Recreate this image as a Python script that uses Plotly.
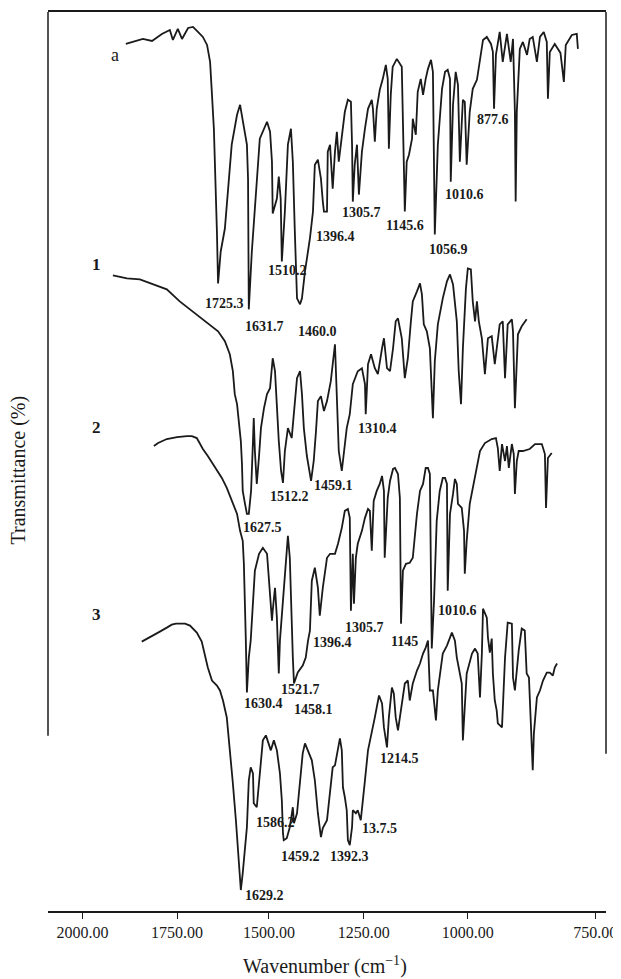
import plotly.graph_objects as go

# ---- Spectrum a (wavenumber, offset transmittance a.u.) ----
a_wn = [1887,1868,1842,1818,1792,1771,1763,1750,1739,1723,1710,1697,1684,1673,1665,1660,1655,1647,1644,1637,
        1626,1608,1594,1586,1579,1568,1565,1563,1555,1547,1534,1515,1507,1502,1500,1489,1484,1479,1476,1468,
        1460,1452,1447,1442,1436,1428,1423,1415,1402,1394,1389,1381,1373,1368,1365,1357,1355,1349,1342,1336,
        1331,1326,1318,1310,1302,1294,1291,1289,1284,1278,1273,1265,1257,1249,1239,1236,1231,1226,1218,1210,
        1202,1197,1194,1189,1184,1173,1160,1157,1152,1147,1141,1133,1131,1123,1118,1110,1104,1097,1091,1083,
        1078,1073,1065,1054,1046,1039,1033,1031,1025,1018,1012,1007,999,994,989,981,973,962,954,946,
        936,925,920,917,912,902,894,883,873,867,862,860,857,849,841,830,823,815,804,796,
        786,778,775,770,757,742,733,728,712,699,696]
a_t = [869,871,874,872,879,883,873,884,874,885,886,881,876,868,851,818,784,681,629,661,
       684,768,798,808,794,768,734,603,661,701,774,791,781,751,699,714,736,714,651,701,
       768,784,751,684,614,608,614,641,674,701,748,753,734,711,701,701,761,768,724,761,
       781,751,778,801,813,811,768,711,748,768,718,761,784,804,813,804,771,804,823,834,
       848,834,764,818,846,854,846,801,701,751,758,774,794,778,821,834,818,834,844,853,
       841,678,768,824,841,843,834,731,808,841,828,751,813,811,748,801,824,833,854,873,
       876,869,861,804,858,881,851,879,851,874,801,711,801,864,871,858,874,876,851,876,
       881,871,814,861,869,860,831,868,878,879,864]

# ---- Spectrum 1 ----
s1_wn = [1921,1884,1850,1816,1779,1745,1718,1692,1666,1644,1626,1613,1605,1600,1594,1589,1584,1581,1579,1573,
         1568,1563,1557,1552,1550,1547,1542,1536,1531,1523,1515,1507,1500,1494,1489,1484,1478,1473,1468,1460,
         1450,1436,1428,1423,1418,1410,1399,1392,1386,1381,1373,1365,1357,1347,1336,1331,1326,1318,1310,1305,
         1297,1289,1276,1265,1257,1255,1249,1241,1231,1223,1212,1207,1199,1191,1183,1176,1170,1160,1152,1144,
         1136,1131,1120,1112,1107,1102,1094,1086,1078,1073,1065,1052,1041,1033,1025,1015,1010,1004,999,991,
         986,978,973,967,962,957,949,941,933,923,915,902,894,888,881,870,867,862,854,844,831]
s1_t = [637,634,633,628,623,611,603,596,588,581,571,558,541,518,508,491,471,448,421,408,
        398,398,421,471,494,461,428,456,484,504,518,524,554,541,504,471,441,429,461,484,
        474,534,541,518,484,456,431,451,481,511,516,501,511,531,568,511,461,441,471,484,
        498,528,541,544,528,498,548,558,544,538,564,574,544,541,564,591,594,574,534,554,
        591,611,621,629,618,588,581,564,494,551,588,614,631,638,628,591,541,508,564,624,
        644,643,611,591,611,591,574,538,574,576,548,588,591,534,588,593,581,504,578,586,593]

# ---- Spectrum 2 ----
s2_wn = [1813,1802,1779,1752,1726,1713,1700,1684,1671,1652,1634,1621,1608,1594,1586,1579,1576,1573,1571,1568,
         1563,1558,1555,1547,1536,1526,1515,1510,1502,1500,1494,1489,1484,1481,1473,1465,1460,1455,1450,1447,
         1444,1434,1421,1413,1407,1402,1397,1389,1381,1376,1368,1357,1349,1336,1328,1318,1310,1302,1297,1294,
         1289,1286,1281,1276,1265,1257,1249,1244,1239,1234,1226,1218,1212,1207,1205,1197,1191,1183,1178,1170,
         1165,1162,1157,1149,1139,1131,1120,1112,1104,1097,1091,1086,1083,1081,1075,1073,1068,1060,1052,1046,
         1041,1039,1033,1025,1020,1015,1012,1002,996,994,989,981,973,962,954,941,923,912,907,902,
         896,888,883,878,870,865,862,857,852,841,823,809,791,783,780,775,765]
s2_t = [466,469,473,475,476,476,474,463,456,444,434,424,411,398,381,371,348,314,274,219,
        254,271,294,341,358,364,358,331,291,301,324,294,238,271,314,354,376,354,281,254,
        228,239,246,254,271,281,331,344,324,296,324,354,358,358,368,384,401,403,394,301,
        358,308,354,368,381,394,403,401,361,411,421,428,436,421,354,414,431,443,444,438,
        414,288,341,348,349,354,398,421,428,444,444,438,331,263,311,341,391,421,434,434,
        428,321,398,418,433,428,408,404,381,338,371,408,424,448,461,469,473,474,464,441,
        468,451,466,444,468,458,418,451,461,461,463,468,468,458,404,454,459]

# ---- Spectrum 3 ----
s3_wn = [1845,1824,1802,1779,1766,1755,1731,1718,1700,1687,1679,1671,1660,1647,1639,1631,1621,1613,1605,1597,
         1592,1586,1584,1579,1573,1568,1563,1558,1552,1550,1542,1536,1529,1526,1518,1513,1505,1497,1489,1481,
         1476,1473,1471,1463,1455,1447,1444,1436,1428,1421,1415,1407,1397,1389,1381,1373,1368,1357,1349,1342,
         1336,1328,1323,1318,1315,1310,1305,1302,1297,1291,1289,1281,1276,1268,1262,1257,1249,1239,1231,1220,
         1212,1207,1199,1194,1186,1181,1176,1170,1162,1152,1144,1139,1131,1120,1112,1104,1097,1091,1086,1078,
         1070,1065,1057,1052,1041,1033,1028,1020,1015,1010,1002,999,994,989,975,967,960,954,949,946,
         936,933,928,923,920,915,910,907,896,894,888,881,870,867,862,857,852,844,836,831,
         825,820,815,812,804,796,788,778,770,762,757,751]
s3_t = [270,274,279,284,287,288,288,286,279,270,258,244,231,226,221,211,194,164,128,91,
        61,36,21,38,61,84,131,144,138,108,104,128,151,171,176,171,161,171,161,138,
        111,78,71,73,84,104,88,98,131,158,168,161,151,131,98,74,83,91,118,144,
        146,161,173,161,124,114,101,71,66,84,101,98,101,91,111,131,161,178,194,216,
        208,184,164,194,224,218,194,181,204,228,231,211,228,241,248,258,264,271,221,221,
        191,221,244,258,266,274,279,271,254,244,228,171,204,238,258,263,258,214,258,303,
        294,274,259,273,238,211,201,188,184,204,254,289,288,234,221,241,261,283,281,238,
        234,188,141,178,214,221,231,239,239,236,244,248]

# ---- Peak labels: text, wavenumber, height ----
label_text = ["1725.3", "1631.7", "1510.2", "1460.0", "1396.4", "1305.7", "1145.6", "1056.9", "1010.6", "877.6",
              "1627.5", "1512.2", "1459.1", "1310.4",
              "1630.4", "1521.7", "1458.1", "1396.4", "1305.7", "1145", "1010.6",
              "1629.2", "1586.2", "1459.2", "1392.3", "13.7.5", "1214.5"]
label_wn = [1626, 1521, 1460, 1381, 1334, 1265, 1152, 1036, 996, 920,
            1526, 1455, 1339, 1223,
            1523, 1426, 1392, 1342, 1257, 1154, 1012,
            1521, 1494, 1426, 1297, 1220, 1165]
label_t = [609, 586, 642, 581, 676, 700, 687, 663, 718, 793,
           384, 415, 426, 484,
           208, 222, 202, 269, 284, 270, 301,
           16, 89, 55, 55, 83, 153]

series_names = ["a", "1", "2", "3"]
series_wn = [1916, 1963, 1963, 1963]
series_t = [858, 648, 485, 297]

# the printed axis of the source is not linear; ticks sit where the source prints them
tick_values = [2001, 1752, 1510, 1260, 986, 650]
tick_labels = ["2000.00", "1750.00", "1500.00", "1250.00", "1000.00", "750.00"]

SERIF = "Liberation Serif, DejaVu Serif, serif"
INK = "#1a1a1a"

fig = go.Figure()
for wn, t in [(a_wn, a_t), (s1_wn, s1_t), (s2_wn, s2_t), (s3_wn, s3_t)]:
    fig.add_trace(go.Scatter(x=wn, y=t, mode="lines",
                             line=dict(color=INK, width=1.8), showlegend=False, hoverinfo="skip"))

for txt, x, y in zip(label_text, label_wn, label_t):
    fig.add_annotation(x=x, y=y, text=txt, showarrow=False, xanchor="center", yanchor="middle",
                       font=dict(family=SERIF, size=14, color=INK, weight="bold"))

for i, (txt, x, y) in enumerate(zip(series_names, series_wn, series_t)):
    fig.add_annotation(x=x, y=y, text=txt, showarrow=False, xanchor="center", yanchor="middle",
                       font=dict(family=SERIF, size=18 if i == 0 else 17, color=INK,
                                 weight="normal" if i == 0 else "bold"))

fig.add_annotation(xref="paper", yref="paper", x=0.496, y=0, yshift=-54, text="Wavenumber (cm<sup>−1</sup>)",
                   showarrow=False, xanchor="center", yanchor="middle",
                   font=dict(family=SERIF, size=20, color=INK))
fig.add_annotation(xref="paper", yref="paper", x=0, xshift=-30, y=0.49, text="Transmittance (%)",
                   textangle=-90, showarrow=False, xanchor="center", yanchor="middle",
                   font=dict(family=SERIF, size=20, color=INK))

# side frame lines of the scanned figure stop short of the bottom axis
fig.add_shape(type="line", xref="paper", yref="paper", x0=0, x1=0, y0=0.195, y1=1,
              line=dict(color=INK, width=1.5))
fig.add_shape(type="line", xref="paper", yref="paper", x0=1, x1=1, y0=0.175, y1=1,
              line=dict(color=INK, width=1.5))

fig.update_xaxes(range=[2092, 622], tickvals=tick_values, ticktext=tick_labels, ticks="outside",
                 ticklen=6, tickwidth=1.3, tickcolor=INK, showline=True, linecolor=INK, linewidth=1.5,
                 mirror=True, showgrid=False, zeroline=False, ticklabeloverflow="allow",
                 tickfont=dict(family=SERIF, size=16, color=INK))
fig.update_yaxes(range=[0, 901], showticklabels=False, ticks="", showline=False,
                 showgrid=False, zeroline=False)
# page body adds an 8 px offset, so margins are reduced by 8
fig.update_layout(width=621, height=971, margin=dict(l=40, r=23, t=2, b=68),
                  plot_bgcolor="white", paper_bgcolor="white")

fig.write_html("out.html")
